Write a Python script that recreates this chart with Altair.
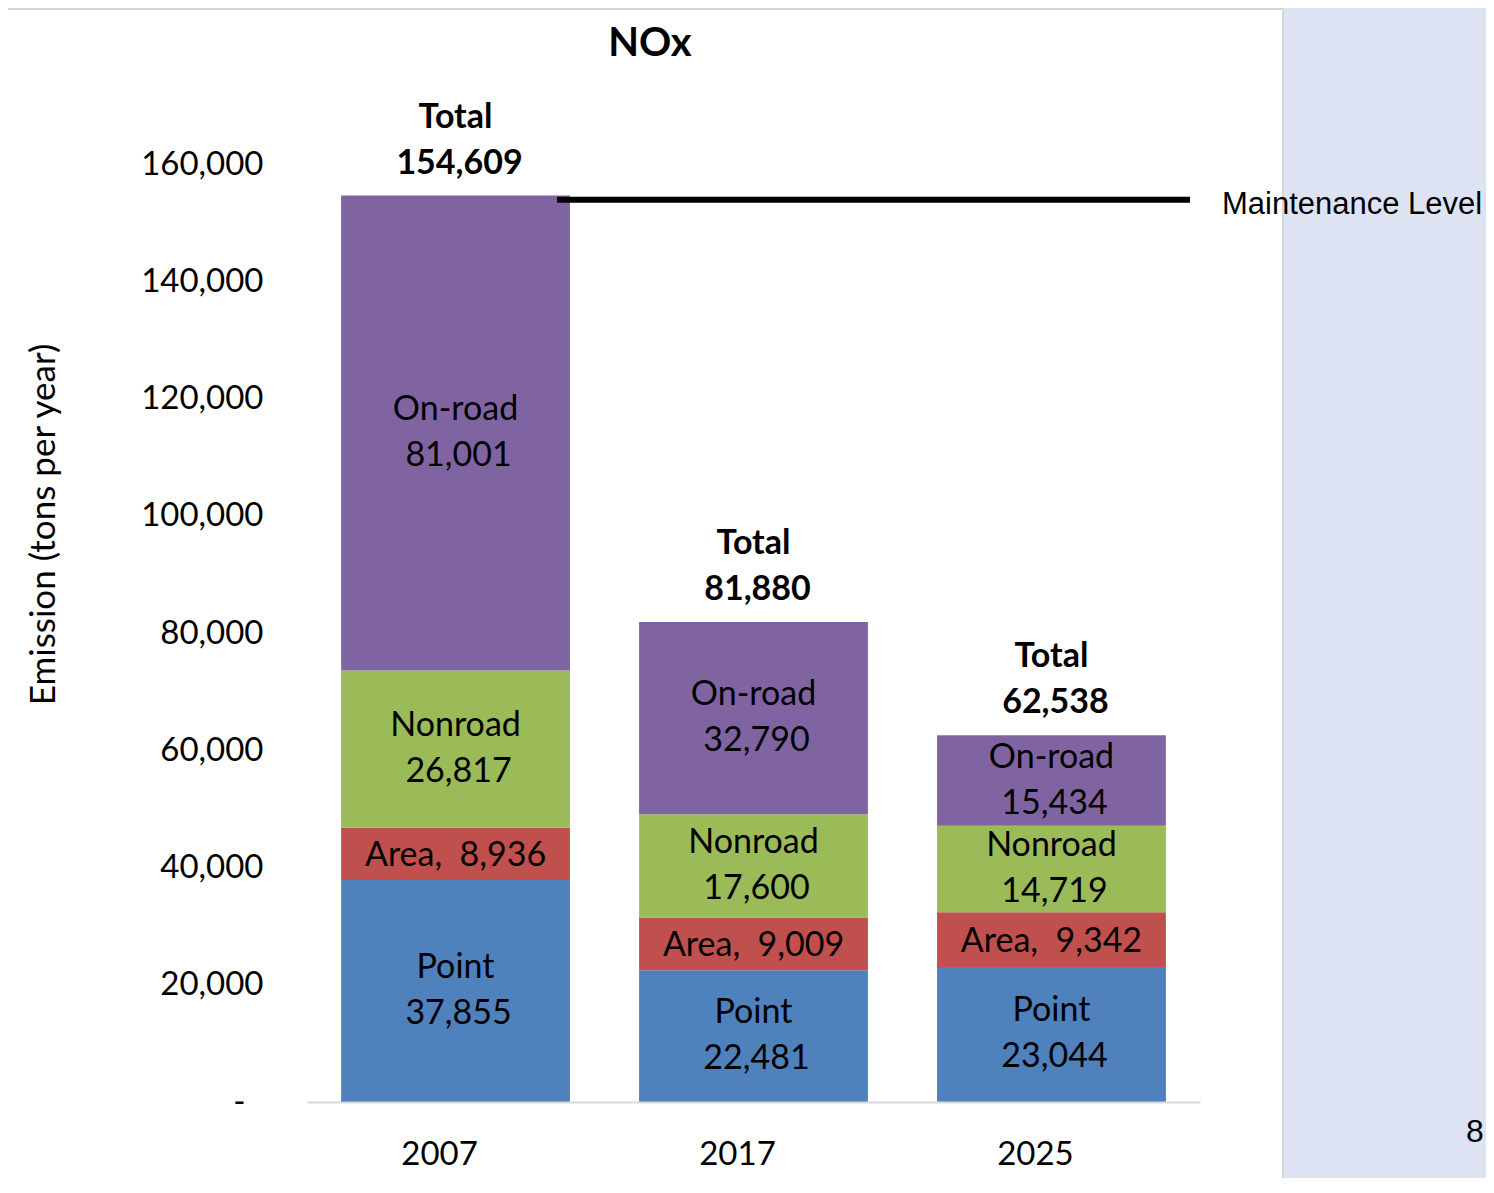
import altair as alt
import pandas as pd

years = ["2007", "2017", "2025"]
sources = ["Point", "Area", "Nonroad", "On-road"]
point = [37855, 22481, 23044]
area = [8936, 9009, 9342]
nonroad = [26817, 17600, 14719]
onroad = [81001, 32790, 15434]
totals = [154609, 81880, 62538]
colors = ["#4F81BD", "#C0504D", "#9BBB59", "#8064A2"]
maintenance_level = 153900
y_ticks = [0, 20000, 40000, 60000, 80000, 100000, 120000, 140000, 160000]

rows = []
for i, y in enumerate(years):
    for k, (s, vals) in enumerate(zip(sources, [point, area, nonroad, onroad])):
        rows.append({"year": y, "source": s, "value": vals[i], "order": k})
df = pd.DataFrame(rows)
df_tot = pd.DataFrame({"year": years, "total": totals})

FONT = "Lato"
FS_AX = 33
FS_LAB = 34
YTITLE = "Emission (tons per year)"
yscale = alt.Scale(domain=[0, 160000], nice=False)
xscale = alt.Scale(domain=years, paddingInner=0.232, paddingOuter=0.1145)


def X():
    return alt.X("year:N", scale=xscale, title=None)


def Y(field):
    return alt.Y(field, scale=yscale, title=YTITLE)


base = alt.Chart(df)

panel = alt.Chart(pd.DataFrame({"a": [1]})).mark_rect(
    fill="white", stroke="#d6d6d6", strokeWidth=2
).encode(
    x=alt.value(-300), x2=alt.value(976), y=alt.value(-155), y2=alt.value(1020)
)

bars = base.mark_bar().encode(
    x=alt.X("year:N", scale=xscale, title=None,
            axis=alt.Axis(labelAngle=0, ticks=False, domainColor="#d9d9d9",
                          domainWidth=2, labelFontSize=FS_AX, labelColor="black",
                          labelPadding=36, labelOffset=-16, grid=False, zindex=1)),
    y=alt.Y("value:Q", stack="zero", scale=yscale, title=YTITLE,
            axis=alt.Axis(values=y_ticks, ticks=False, domain=False, grid=False, zindex=1,
                          labelFontSize=FS_AX, labelColor="black",
                          labelPadding={"condition": {"test": "datum.value == 0", "value": 62}, "value": 44},
                          labelExpr="datum.value == 0 ? '-' : format(datum.value, ',')",
                          titleFontSize=35, titleFontWeight="normal", titleColor="black",
                          titleX=-264, titleY=360, titleAngle=-90, titleBaseline="middle")),
    color=alt.Color("source:N", scale=alt.Scale(domain=sources, range=colors), legend=None),
    order=alt.Order("order:Q"),
)

stacked = base.transform_stack(
    stack="value", groupby=["year"], as_=["y0", "y1"], sort=[alt.SortField("order")]
).transform_calculate(mid="(datum.y0 + datum.y1) / 2")

nonarea = stacked.transform_filter("datum.source != 'Area'")
lab_name = nonarea.mark_text(fontSize=FS_LAB, baseline="middle", dy=-23, color="black").encode(
    x=X(), y=Y("mid:Q"), text="source:N",
)
lab_val = nonarea.mark_text(fontSize=FS_LAB, baseline="middle", dy=23, dx=3, color="black").encode(
    x=X(), y=Y("mid:Q"), text=alt.Text("value:Q", format=","),
)
lab_area = stacked.transform_filter("datum.source == 'Area'").transform_calculate(
    lbl="'Area,\u00a0 ' + format(datum.value, ',')"
).mark_text(fontSize=FS_LAB, baseline="middle", dy=2, color="black").encode(
    x=X(), y=Y("mid:Q"), text="lbl:N",
)

tot_base = alt.Chart(df_tot)
tot1 = tot_base.transform_calculate(t="'Total'").mark_text(
    fontSize=FS_LAB, fontWeight="bold", baseline="middle", dy=-78, color="black"
).encode(x=X(), y=Y("total:Q"), text="t:N")
tot2 = tot_base.mark_text(
    fontSize=FS_LAB, fontWeight="bold", baseline="middle", dy=-32, dx=4, color="black"
).encode(x=X(), y=Y("total:Q"), text=alt.Text("total:Q", format=","))

rule = alt.Chart(pd.DataFrame({"m": [maintenance_level]})).mark_rule(
    color="black", strokeWidth=6
).encode(
    x=alt.value(250), x2=alt.value(883), y=Y("m:Q"),
)
rule_lbl = alt.Chart(pd.DataFrame({"t": ["Maintenance Level"], "m": [maintenance_level]})).mark_text(
    font="Liberation Sans", fontSize=31, align="left", baseline="middle", color="black", dy=5
).encode(
    x=alt.value(915), y=Y("m:Q"), text="t:N",
)

title = alt.Chart(pd.DataFrame({"t": ["NOx"]})).mark_text(
    fontSize=40, fontWeight="bold", baseline="middle", color="black"
).encode(x=alt.value(343), y=alt.value(-120), text="t:N")

page = alt.Chart(pd.DataFrame({"t": ["8"]})).mark_text(
    font="Liberation Sans", fontSize=32, baseline="middle", color="black"
).encode(x=alt.value(1168), y=alt.value(968), text="t:N")

chart = alt.layer(
    panel, bars, lab_name, lab_val, lab_area, tot1, tot2, rule, rule_lbl, title, page
).properties(
    width=893, height=938,
    autosize=alt.AutoSizeParams(type="none"),
    padding={"left": 299, "top": 156, "right": 286, "bottom": 76},
    background="#dde3f3",
).configure_view(strokeWidth=0).configure_axis(
    labelFont=FONT, titleFont=FONT
).configure_text(font=FONT)

chart.save("out.html", embed_options={"renderer": "svg", "actions": False})
